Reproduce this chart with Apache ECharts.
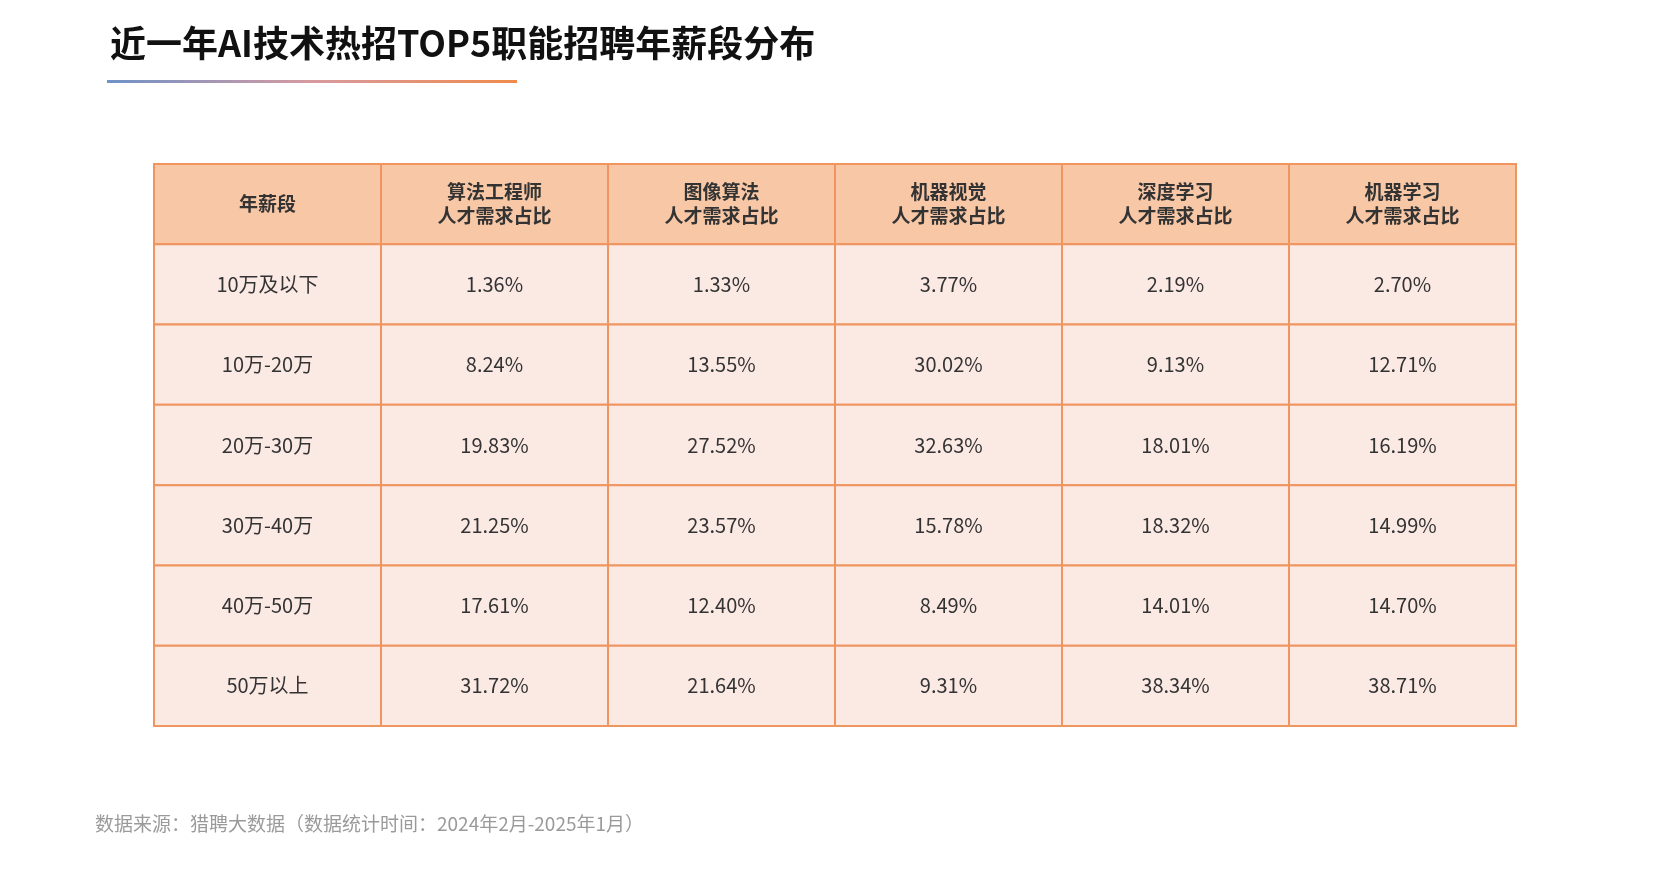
<!DOCTYPE html>
<html><head><meta charset="utf-8">
<script src="https://cdn.jsdelivr.net/npm/echarts@6/dist/echarts.min.js"></script>
<style>html,body{margin:0;padding:0;background:#fff}#c{width:1674px;height:894px}</style>
</head><body><div id="c"></div>
<script>
const headers = ['年薪段','算法工程师\n人才需求占比','图像算法\n人才需求占比','机器视觉\n人才需求占比','深度学习\n人才需求占比','机器学习\n人才需求占比'];
const salaryBands = ['10万及以下','10万-20万','20万-30万','30万-40万','40万-50万','50万以上'];
const algoEngineer = [1.36, 8.24, 19.83, 21.25, 17.61, 31.72];
const imageAlgo = [1.33, 13.55, 27.52, 23.57, 12.40, 21.64];
const machineVision = [3.77, 30.02, 32.63, 15.78, 8.49, 9.31];
const deepLearning = [2.19, 9.13, 18.01, 18.32, 14.01, 38.34];
const machineLearning = [2.70, 12.71, 16.19, 14.99, 14.70, 38.71];
const series = [algoEngineer, imageAlgo, machineVision, deepLearning, machineLearning];

const rows = ['header'].concat(salaryBands);
const cols = headers.map((h,i)=>'c'+i);
const cells = [];
headers.forEach((h,i)=>cells.push([i,0,h,1]));
salaryBands.forEach((b,r)=>{
  cells.push([0,r+1,b,0]);
  series.forEach((s,c)=>cells.push([c+1,r+1,s[r].toFixed(2)+'%',0]));
});

const chart = echarts.init(document.getElementById('c'));
chart.setOption({
  backgroundColor:'#fff',
  title:{text:'近一年AI技术热招TOP5职能招聘年薪段分布',left:105,top:20,
    textStyle:{fontFamily:'Noto Sans CJK SC',fontSize:36,fontWeight:'bold',color:'#111'}},
  graphic:[
    {type:'rect',left:107,top:80,shape:{width:410,height:3},
     style:{fill:new echarts.graphic.LinearGradient(0,0,1,0,[{offset:0,color:'#6f92c8'},{offset:0.5,color:'#d79aa0'},{offset:1,color:'#f08a4b'}])}},
    {type:'text',left:95,top:814,style:{text:'数据来源：猎聘大数据（数据统计时间：2024年2月-2025年1月）',
     fontFamily:'Noto Sans CJK SC',fontSize:19,fill:'#9a9a9a'}}
  ],
  grid:{left:154,right:158,top:164,bottom:168},
  xAxis:{type:'category',data:cols,show:false},
  yAxis:{type:'category',data:rows,inverse:true,show:false},
  series:[{
    type:'custom',
    data:cells,
    renderItem:function(params,api){
      const p = api.coord([api.value(0),api.value(1)]);
      const sz = api.size([1,1]);
      const isHead = api.value(3)===1;
      const txt = cells[params.dataIndex][2];
      return {type:'group',children:[
        {type:'rect',shape:{x:p[0]-sz[0]/2,y:p[1]-sz[1]/2,width:sz[0],height:sz[1]},
         style:{fill:isHead?'#f7c7a6':'#fbe9e4',stroke:'#f0955f',lineWidth:2}},
        {type:'text',x:p[0],y:p[1],style:{text:txt,align:'center',verticalAlign:'middle',
          fontFamily:'Noto Sans CJK SC',fontSize:isHead?19:20,fontWeight:isHead?'bold':'normal',
          lineHeight:24,fill:'#333'}}
      ]};
    }
  }]
});
</script></body></html>
